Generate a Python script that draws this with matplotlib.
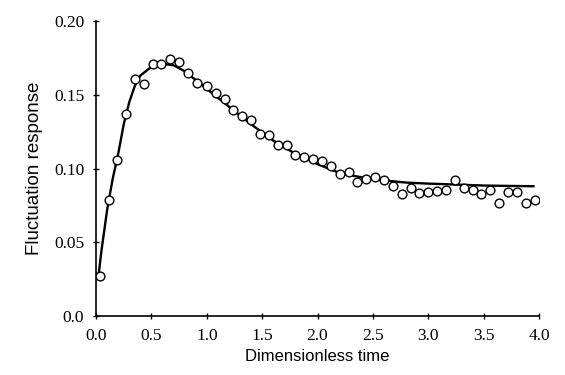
import matplotlib
matplotlib.use("Agg")
import matplotlib.pyplot as plt
import numpy as np

# measured points (open circles)
t_data = [0.04, 0.12, 0.19, 0.27, 0.35, 0.43, 0.51, 0.59, 0.67, 0.75,
          0.83, 0.91, 1.00, 1.08, 1.16, 1.24, 1.32, 1.40, 1.48, 1.56,
          1.64, 1.72, 1.80, 1.88, 1.96, 2.04, 2.12, 2.20, 2.28, 2.36,
          2.44, 2.52, 2.60, 2.68, 2.76, 2.84, 2.92, 3.00, 3.08, 3.16,
          3.24, 3.32, 3.40, 3.48, 3.56, 3.64, 3.72, 3.80, 3.88, 3.96]
v_data = [0.0273, 0.079, 0.1055, 0.137, 0.161, 0.157, 0.171, 0.171, 0.174, 0.172,
          0.165, 0.158, 0.156, 0.151, 0.147, 0.140, 0.1356, 0.133, 0.1234, 0.1225,
          0.116, 0.116, 0.109, 0.108, 0.1064, 0.105, 0.1015, 0.0965, 0.0976, 0.091,
          0.093, 0.094, 0.092, 0.088, 0.083, 0.087, 0.0834, 0.0839, 0.085, 0.0852,
          0.0924, 0.0866, 0.0854, 0.0827, 0.0854, 0.077, 0.0839, 0.0843, 0.0766, 0.0786]

# fitted curve
t_fit = [0.02, 0.05, 0.10, 0.15, 0.20, 0.25, 0.30, 0.35, 0.40, 0.50,
         0.60, 0.70, 0.80, 0.90, 1.00, 1.20, 1.40, 1.60, 1.80, 2.00,
         2.20, 2.40, 2.60, 2.80, 3.00, 3.50, 3.95]
v_fit = [0.026, 0.045, 0.072, 0.093, 0.110, 0.130, 0.145, 0.156, 0.163, 0.169,
         0.171, 0.170, 0.166, 0.160, 0.154, 0.142, 0.130, 0.119, 0.110, 0.103,
         0.097, 0.094, 0.092, 0.0905, 0.0898, 0.0885, 0.088]

x_ticks = [0.0, 0.5, 1.0, 1.5, 2.0, 2.5, 3.0, 3.5, 4.0]
y_ticks = [0.0, 0.05, 0.10, 0.15, 0.20]
y_tick_labels = ["0.0", "0.05", "0.10", "0.15", "0.20"]

fig = plt.figure(figsize=(5.65, 3.75), dpi=100)
ax = fig.add_axes([0.170, 0.157, 0.784, 0.787])

ax.plot(t_fit, v_fit, color="black", linewidth=1.7, zorder=2)
ax.plot(t_data, v_data, linestyle="none", marker="o", markersize=6.3,
        markerfacecolor="white", markeredgecolor="black", markeredgewidth=1.0,
        zorder=3)

ax.set_xlim(0, 4.0)
ax.set_ylim(0, 0.20)
ax.set_xticks(x_ticks)
ax.set_xticklabels([f"{x:.1f}" for x in x_ticks])
ax.set_yticks(y_ticks)
ax.set_yticklabels(y_tick_labels)

for s in ["top", "right"]:
    ax.spines[s].set_visible(False)
for s in ["left", "bottom"]:
    ax.spines[s].set_linewidth(1.2)
    ax.spines[s].set_color("black")

ax.tick_params(direction="inout", length=5, width=1.0, pad=6)
for lab in ax.get_xticklabels() + ax.get_yticklabels():
    lab.set_fontfamily("Liberation Serif")
    lab.set_fontsize(12.5)

ax.set_xlabel("Dimensionless time", fontfamily="Liberation Sans", fontsize=12, labelpad=4)
ax.set_ylabel("Fluctuation response", fontfamily="Liberation Sans", fontsize=13.5, labelpad=8)

fig.savefig("out.png", dpi=100)
